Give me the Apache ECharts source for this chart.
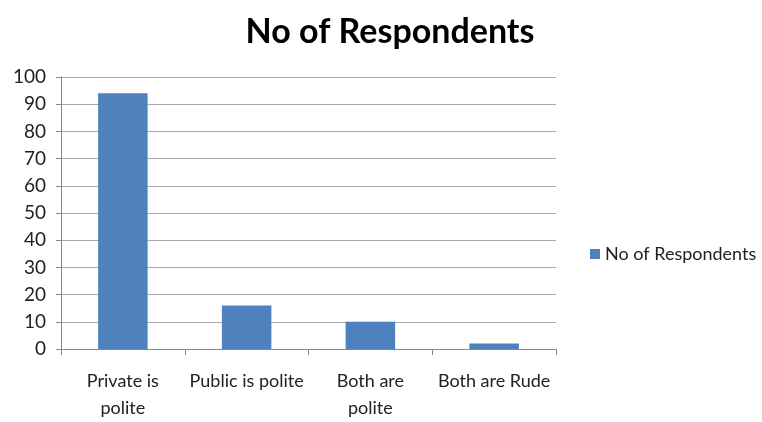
<!DOCTYPE html>
<html>
<head>
<meta charset="utf-8">
<script src="https://cdn.jsdelivr.net/npm/echarts@6/dist/echarts.min.js"></script>
<style>
  html, body { margin: 0; padding: 0; background: #fff; }
  #chart { width: 762px; height: 422px; }
</style>
</head>
<body>
<div id="chart"></div>
<script>
const categories = ['Private is\npolite', 'Public is polite', 'Both are\npolite', 'Both are Rude'];
const respondents = [94, 16, 10, 2];
const seriesName = 'No of Respondents';
const yTicks = { min: 0, max: 100, interval: 10 };

const font = 'Lato, "Open Sans", sans-serif';
const chart = echarts.init(document.getElementById('chart'));
chart.setOption({
  animation: false,
  title: {
    text: 'No of Respondents',
    left: 385,
    textAlign: 'center',
    top: 10,
    textStyle: { fontFamily: font, fontSize: 34, fontWeight: 'bold', color: '#000' }
  },
  legend: {
    data: [seriesName],
    left: 585,
    top: 240,
    itemWidth: 10,
    itemHeight: 10,
    itemGap: 6,
    icon: 'rect',
    textStyle: { fontFamily: font, fontSize: 18, color: '#222' }
  },
  grid: { left: 61, right: 206, top: 77, bottom: 67 },
  xAxis: {
    type: 'category',
    data: categories,
    axisLine: { lineStyle: { color: '#888' } },
    axisTick: { show: true, length: 6, alignWithLabel: false, lineStyle: { color: '#888' } },
    axisLabel: {
      fontFamily: font, fontSize: 18, color: '#222', margin: 19, lineHeight: 27, interval: 0
    }
  },
  yAxis: {
    type: 'value',
    min: yTicks.min,
    max: yTicks.max,
    interval: yTicks.interval,
    axisLine: { show: true, lineStyle: { color: '#888' } },
    axisTick: { show: true, length: 5, lineStyle: { color: '#888' } },
    splitLine: { lineStyle: { color: '#aaa' } },
    axisLabel: { fontFamily: font, fontSize: 19, color: '#222', margin: 15 }
  },
  series: [{
    name: seriesName,
    type: 'bar',
    data: respondents,
    barWidth: '40%',
    itemStyle: { color: '#4F81BD' }
  }]
});
</script>
</body>
</html>
